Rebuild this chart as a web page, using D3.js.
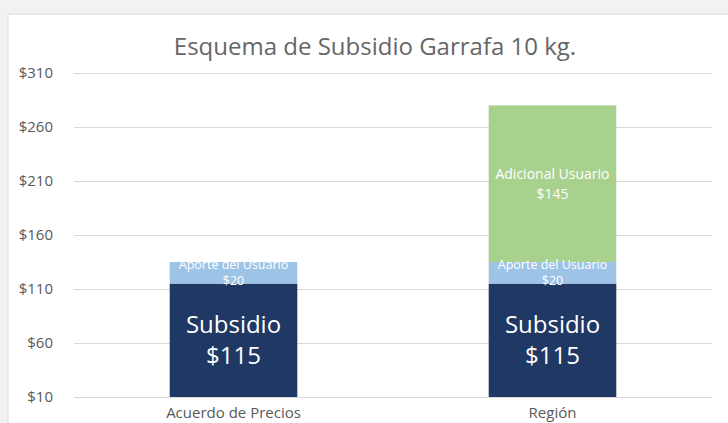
<!DOCTYPE html>
<html><head><meta charset="utf-8">
<script src="https://cdn.jsdelivr.net/npm/d3@7"></script>
<style>
html,body{margin:0;padding:0;background:#f2f2f2;overflow:hidden}
svg{display:block}
text{font-family:"Open Sans","Noto Sans",sans-serif}
</style></head>
<body>
<script>
const categories = ["Acuerdo de Precios", "Región"];
const seriesNames = ["Subsidio", "Aporte del Usuario", "Adicional Usuario"];
const subsidio = [115, 115];
const aporte = [20, 20];
const adicional = [0, 145];
const yTicks = [10, 60, 110, 160, 210, 260, 310];
const title = "Esquema de Subsidio Garrafa 10 kg.";

const W = 728, H = 423;
const svg = d3.select("body").append("svg").attr("width", W).attr("height", H);
svg.append("rect").attr("x", 8).attr("y", 14).attr("width", W).attr("height", H).attr("fill", "#fff").attr("stroke","#d9d9d9");

const y = d3.scaleLinear().domain([10, 310]).range([397, 73]);
const x = d3.scaleBand().domain(categories).range([74, 712]).padding(0);
const barW = x.bandwidth() * 0.4;

svg.append("text").attr("x", 375).attr("y", 55).attr("text-anchor", "middle")
  .attr("font-size", 24).attr("fill", "#666").text(title);

// grid
const yAxis = d3.axisLeft(y).tickValues(yTicks).tickFormat(d => "$" + d).tickSize(-(712 - 74)).tickPadding(21);
const ga = svg.append("g").attr("transform", "translate(74,0)").call(yAxis);
ga.select(".domain").remove();
ga.selectAll(".tick line").attr("stroke", "#d9d9d9");
ga.selectAll(".tick text").attr("fill", "#595959").attr("font-size", 15).attr("font-family", "Lato, 'Open Sans', sans-serif");

const data = categories.map((c, i) => ({cat: c, vals: [subsidio[i], aporte[i], adicional[i]]}));
const stack = d3.stack().keys([0, 1, 2]).value((d, k) => d.vals[k]);
const stacked = stack(data);
const colors = ["#203864", "#9dc3e6", "#a9d18e"];

const clip = v => Math.max(v, 10);
stacked.forEach((layer, k) => {
  svg.append("g").selectAll("rect").data(layer.filter(d => d[1] > d[0])).join("rect")
    .attr("x", d => x(d.data.cat) + x.bandwidth() / 2 - barW / 2)
    .attr("width", barW)
    .attr("y", d => y(d[1]))
    .attr("height", d => y(clip(d[0])) - y(d[1]))
    .attr("fill", colors[k]);
});

// labels
const labelStyle = [
  {size: 24, gap: 31},
  {size: 12.5, gap: 16},
  {size: 14, gap: 20}
];
stacked.forEach((layer, k) => {
  layer.filter(d => d[1] > d[0]).forEach(d => {
    const cx = x(d.data.cat) + x.bandwidth() / 2;
    const cy = (y(clip(d[0])) + y(d[1])) / 2;
    const s = labelStyle[k];
    const t = svg.append("text").attr("text-anchor", "middle").attr("fill", "#fff").attr("font-size", s.size);
    t.append("tspan").attr("x", cx).attr("y", cy - s.gap / 2 + s.size * 0.35).text(seriesNames[k]);
    t.append("tspan").attr("x", cx).attr("y", cy + s.gap / 2 + s.size * 0.35).text("$" + (d[1] - d[0]));
  });
});

// category labels
svg.append("g").selectAll("text").data(categories).join("text")
  .attr("x", d => x(d) + x.bandwidth() / 2).attr("y", 418)
  .attr("text-anchor", "middle").attr("font-size", 15).attr("fill", "#595959").text(d => d);
</script>
</body></html>
